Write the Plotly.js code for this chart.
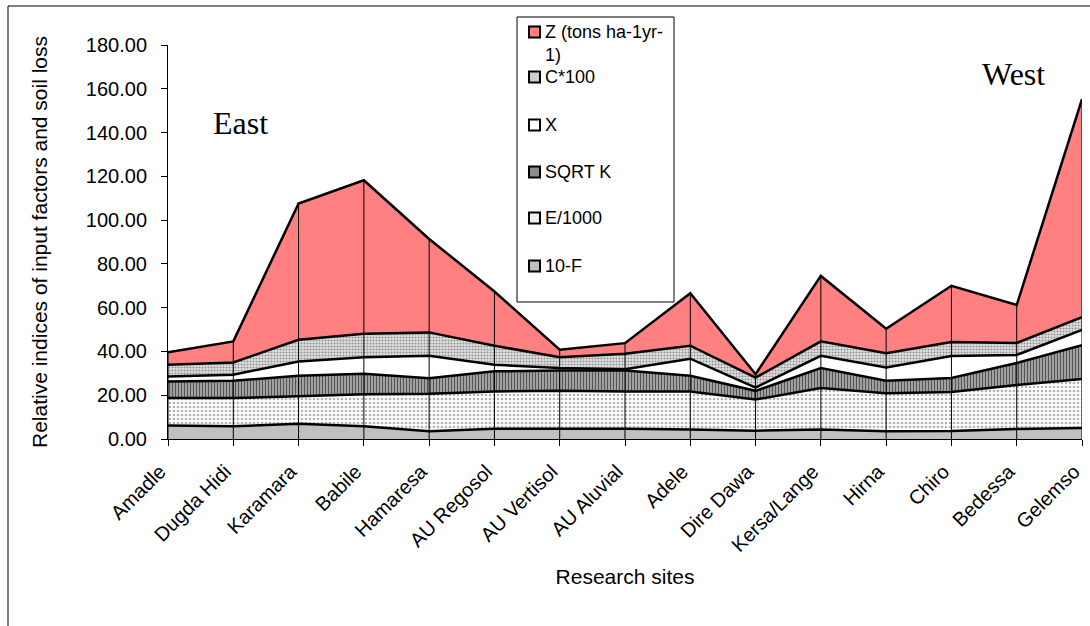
<!DOCTYPE html>
<html>
<head>
<meta charset="utf-8">
<script src="https://cdn.plot.ly/plotly-3.0.1.min.js"></script>
<style>
  html, body { margin: 0; padding: 0; background: #ffffff; }
  #chart { width: 1090px; height: 626px; }
</style>
</head>
<body>
<div id="chart"></div>
<script>
// ---- data ----
const categories = ['Amadle', 'Dugda Hidi', 'Karamara', 'Babile', 'Hamaresa', 'AU Regosol', 'AU Vertisol',
  'AU Aluvial', 'Adele', 'Dire Dawa', 'Kersa/Lange', 'Hirna', 'Chiro', 'Bedessa', 'Gelemso'];
const tenMinusF = [6.2, 5.8, 7.0, 5.8, 3.5, 4.7, 4.7, 4.7, 4.3, 3.8, 4.3, 3.5, 3.7, 4.6, 5.0];
const eOver1000 = [12.5, 12.9, 12.5, 14.7, 17.2, 17.0, 17.4, 17.0, 17.4, 14.2, 19.0, 17.4, 17.8, 20.1, 22.4];
const sqrtK = [7.6, 7.9, 9.4, 9.3, 7.1, 9.2, 9.2, 9.6, 7.2, 4.0, 9.1, 5.7, 6.4, 10.0, 15.5];
const xFactor = [2.3, 2.8, 6.5, 7.6, 10.2, 3.0, 1.1, 0.6, 7.8, 1.5, 5.6, 6.1, 10.0, 3.7, 6.9];
const cTimes100 = [5.3, 5.6, 9.9, 10.7, 10.7, 8.7, 5.0, 7.0, 5.9, 4.5, 6.6, 6.5, 6.4, 5.5, 5.9];
const zSoilLoss = [5.7, 9.6, 62.3, 70.1, 42.7, 24.8, 3.4, 4.9, 24.0, 1.6, 29.9, 11.2, 25.7, 17.3, 99.6];

const seriesNames = ['10-F', 'E/1000', 'SQRT K', 'X', 'C*100', 'Z (tons ha-1yr-1)'];
const legendLabels = ['10-F', 'E/1000', 'SQRT K', 'X', 'C*100', 'Z (tons ha-1yr-<br>1)'];
const yTickValues = [0, 20, 40, 60, 80, 100, 120, 140, 160, 180];

// ---- styles ----
const FONT = 'Arial, "Liberation Sans", sans-serif';
const SERIF = '"Times New Roman", "Liberation Serif", serif';
const seriesValues = [tenMinusF, eOver1000, sqrtK, xFactor, cTimes100, zSoilLoss];
const fillStyles = [
  { fillcolor: '#c0c0c0' },
  { fillcolor: '#ffffff', fillpattern: { shape: '.', bgcolor: '#ffffff', fgcolor: '#b4b4b4', size: 4, solidity: 0.35 } },
  { fillcolor: '#a0a0a0', fillpattern: { shape: '|', bgcolor: '#b0b0b0', fgcolor: '#555555', size: 3, solidity: 0.45 } },
  { fillcolor: '#ffffff' },
  { fillcolor: '#d8d8d8', fillpattern: { shape: '.', bgcolor: '#e2e2e2', fgcolor: '#939393', size: 3, solidity: 0.4 } },
  { fillcolor: '#ff8080' }
];
const legendSwatch = ['#c0c0c0', '#f0f0f0', '#8c8c8c', '#ffffff', '#cfcfcf', '#ff8080'];

const traces = seriesValues.map((vals, i) => Object.assign({
  type: 'scatter',
  mode: 'lines',
  name: seriesNames[i],
  x: categories,
  y: vals,
  stackgroup: 'one',
  line: { color: '#000000', width: 2.5 },
  showlegend: false,
  hoverinfo: 'x+y+name'
}, fillStyles[i]));

// drop lines from the axis to the top of the stack at every site
const totals = categories.map((_, k) => seriesValues.reduce((s, arr) => s + arr[k], 0));
const dropX = [], dropY = [];
categories.forEach((c, k) => { dropX.push(c, c, null); dropY.push(0, totals[k], null); });
traces.push({
  type: 'scatter', mode: 'lines', x: dropX, y: dropY,
  line: { color: '#000000', width: 1 }, showlegend: false, hoverinfo: 'skip', connectgaps: false
});

// ---- plot geometry (pixels) ----
const W = 1090, H = 626;
const L = 168, R = 1082, T = 45, B = 439;
const px = v => (v - L) / (R - L);
const py = v => (B - v) / (B - T);

const shapes = [];
const annotations = [];

// outer chart frame (left and top edges visible)
shapes.push({ type: 'line', xref: 'paper', yref: 'paper', x0: px(8), x1: px(8), y0: py(6), y1: py(640), line: { color: '#000', width: 1 } });
shapes.push({ type: 'line', xref: 'paper', yref: 'paper', x0: px(8), x1: px(1100), y0: py(6), y1: py(6), line: { color: '#000', width: 1 } });

// legend box
shapes.push({ type: 'rect', xref: 'paper', yref: 'paper', x0: px(517), x1: px(674), y0: py(17), y1: py(302),
  fillcolor: '#ffffff', line: { color: '#000', width: 1 }, layer: 'above' });

// legend entries (top to bottom: Z, C*100, X, SQRT K, E/1000, 10-F)
const entryY = [266, 218, 172, 125, 77, 32];
const textY = [266, 218, 172, 125, 77, 43.5];
for (let i = 0; i < seriesNames.length; i++) {
  shapes.push({ type: 'rect', xref: 'paper', yref: 'paper', x0: px(529), x1: px(540), y0: py(entryY[i] - 5.5), y1: py(entryY[i] + 5.5),
    fillcolor: legendSwatch[i], line: { color: '#000', width: 2 }, layer: 'above' });
  annotations.push({ xref: 'paper', yref: 'paper', x: px(543), y: py(textY[i]), xanchor: 'left', yanchor: 'middle',
    text: legendLabels[i], showarrow: false, align: 'left', font: { family: FONT, size: 18, color: '#000' } });
}

annotations.push({ xref: 'paper', yref: 'paper', x: px(240), y: py(123), xanchor: 'center', yanchor: 'middle',
  text: 'East', showarrow: false, font: { family: SERIF, size: 32, color: '#000' } });
annotations.push({ xref: 'paper', yref: 'paper', x: px(1013), y: py(74), xanchor: 'center', yanchor: 'middle',
  text: 'West', showarrow: false, font: { family: SERIF, size: 32, color: '#000' } });

const layout = {
  width: W, height: H,
  margin: { l: L, r: W - R, t: T, b: H - B, pad: 0 },
  paper_bgcolor: '#ffffff', plot_bgcolor: '#ffffff',
  showlegend: false,
  font: { family: FONT, size: 20, color: '#000' },
  xaxis: {
    type: 'category', range: [0, categories.length - 1],
    showline: true, linecolor: '#000', linewidth: 1, mirror: false,
    ticks: 'outside', ticklen: 6, tickcolor: '#000', tickwidth: 1,
    tickangle: -45, tickfont: { family: FONT, size: 20, color: '#000' },
    ticklabelstandoff: 6, ticklabelshift: -8,
    showgrid: false, zeroline: false,
    title: { text: 'Research sites', font: { family: FONT, size: 21, color: '#000' }, standoff: 14 }
  },
  yaxis: {
    range: [0, 180], tickvals: yTickValues, tickformat: '.2f',
    showline: true, linecolor: '#000', linewidth: 1,
    ticks: 'outside', ticklen: 6, tickcolor: '#000', tickwidth: 1,
    tickfont: { family: FONT, size: 20, color: '#000' },
    ticklabelstandoff: 10,
    showgrid: false, zeroline: false,
    title: { text: 'Relative indices of input factors and soil loss', font: { family: FONT, size: 21, color: '#000' }, standoff: 32 }
  },
  shapes: shapes,
  annotations: annotations
};

Plotly.newPlot('chart', traces, layout, { displayModeBar: false, staticPlot: true });
</script>
</body>
</html>
